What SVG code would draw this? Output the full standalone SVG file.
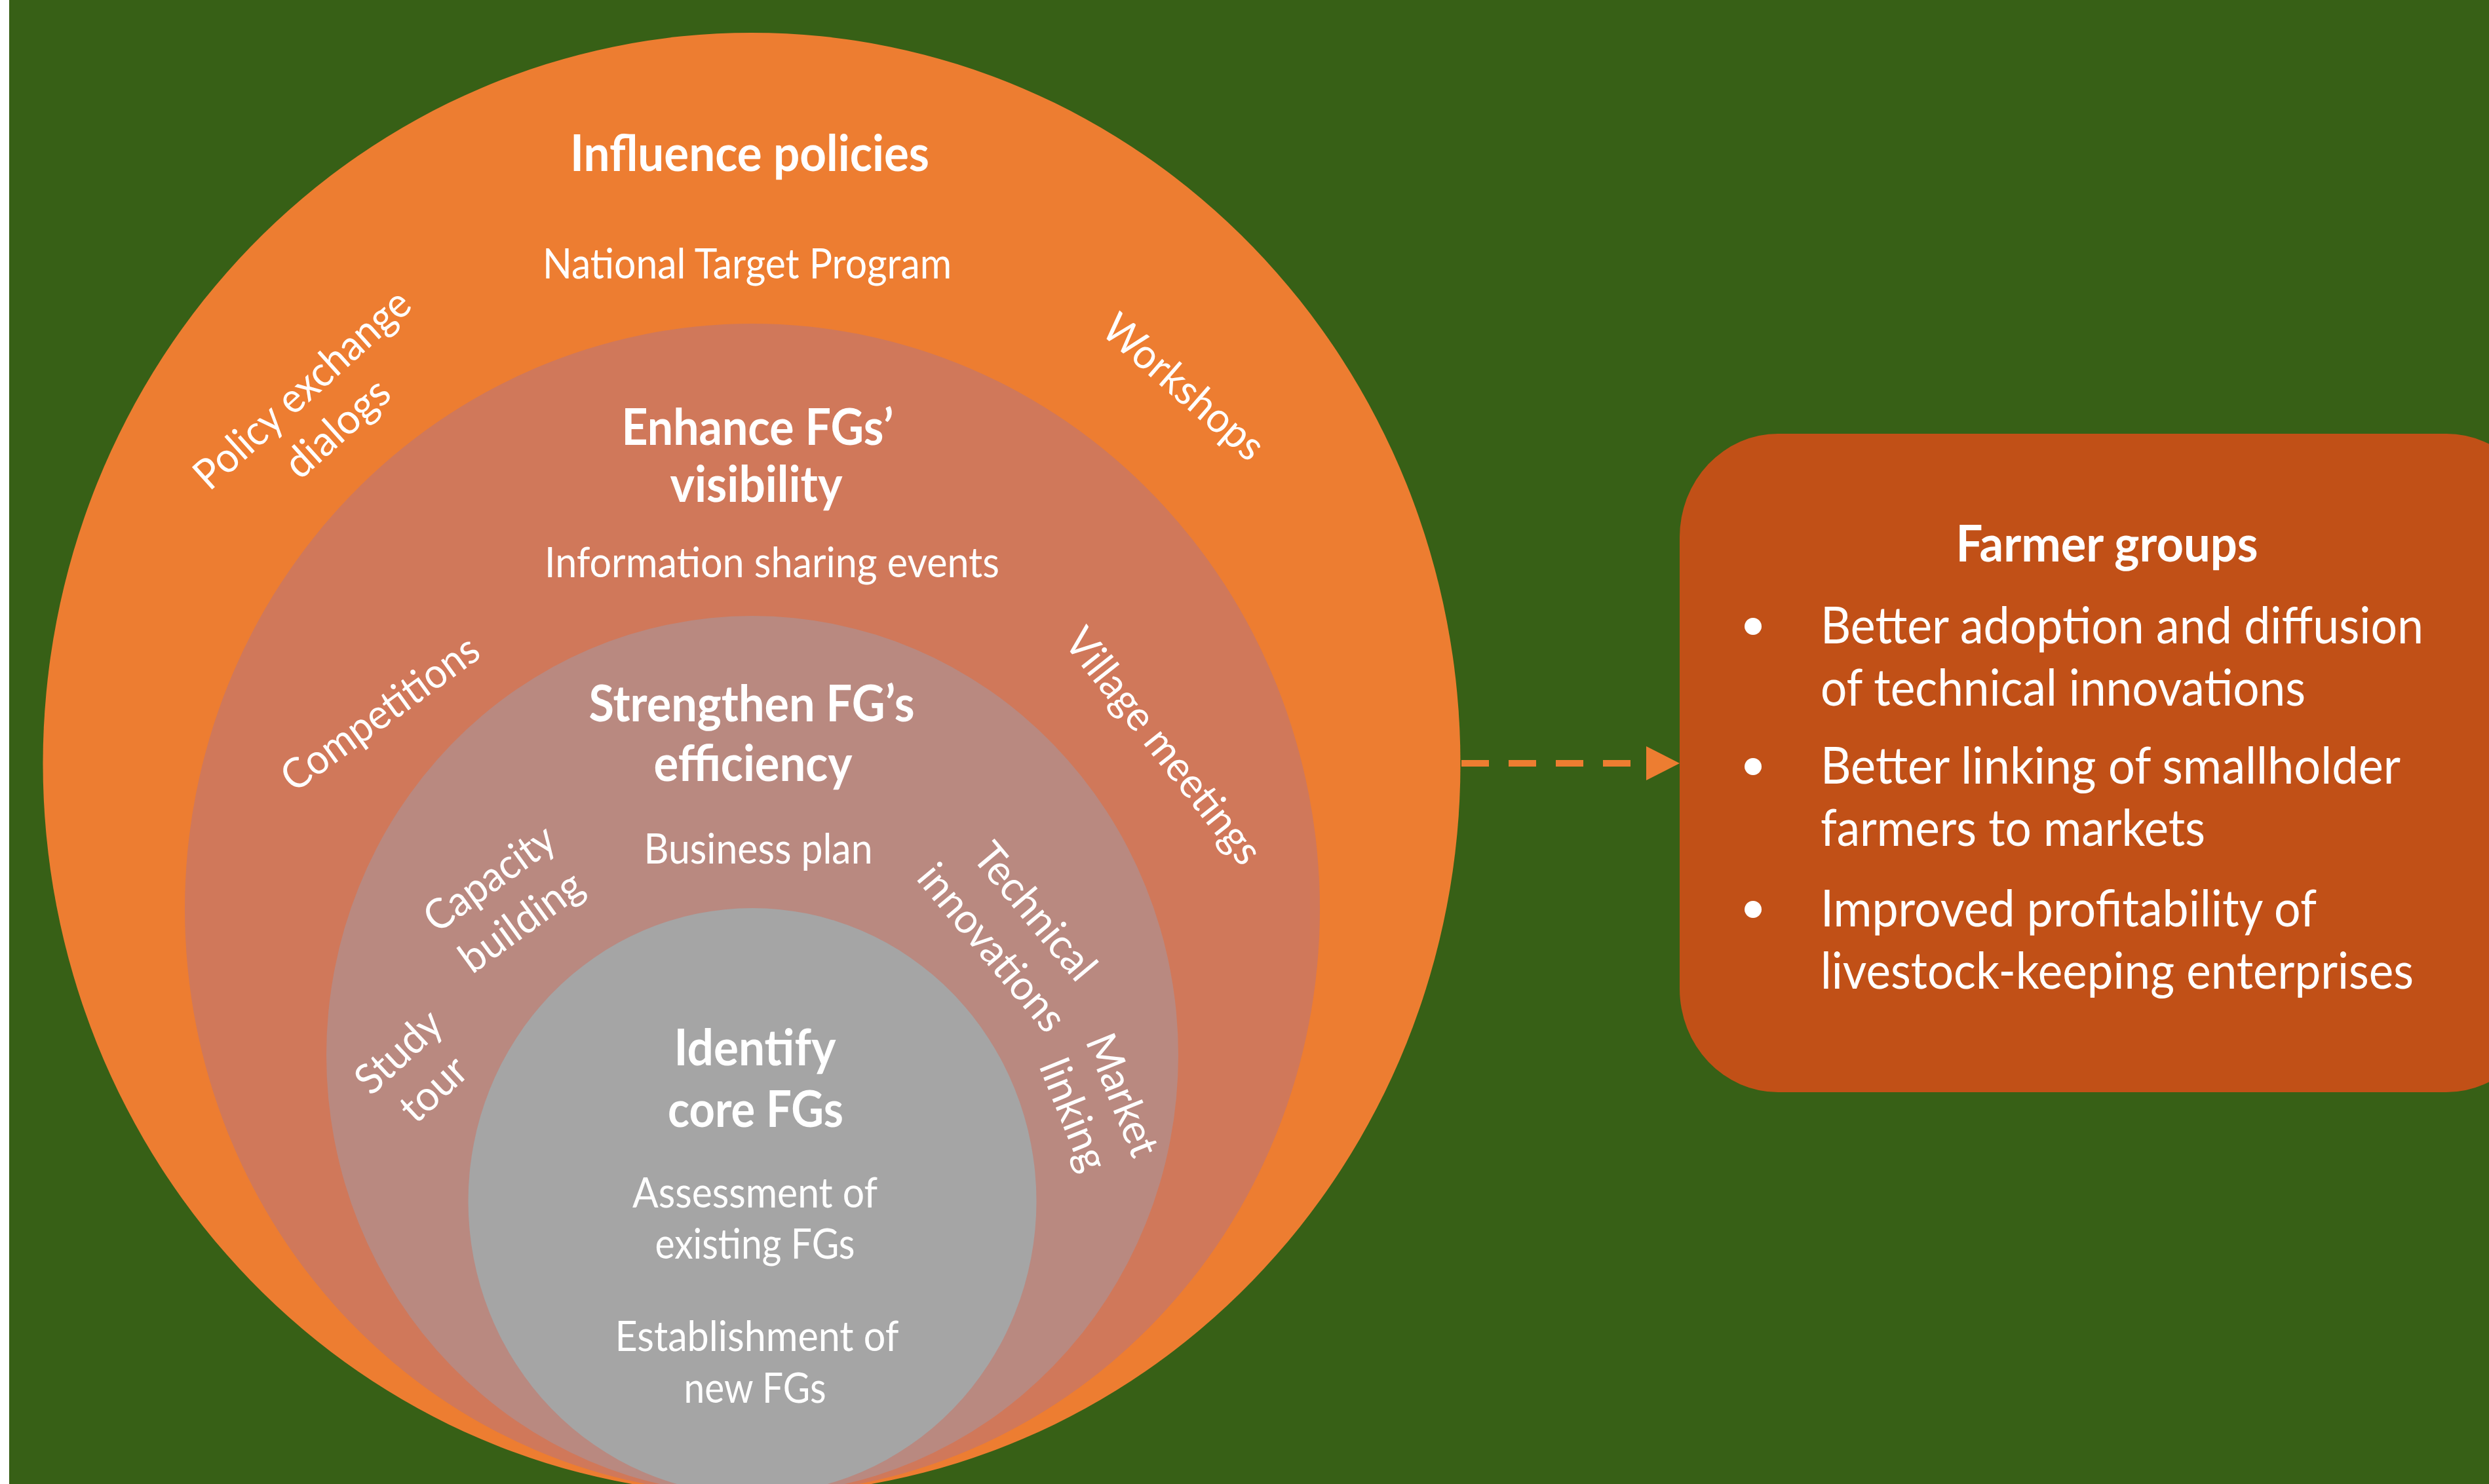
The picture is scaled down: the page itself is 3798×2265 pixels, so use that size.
<svg xmlns="http://www.w3.org/2000/svg" width="3798" height="2265" viewBox="0 0 3798 2265">
<defs>
<style>
.t{font-family:Lato,"Open Sans","Liberation Sans",sans-serif;fill:#ffffff}
.h{font-size:76px;font-weight:700;text-anchor:middle}
.m{font-size:64px;text-anchor:middle}
.b{font-size:77px}
.dot{font-size:70px;text-anchor:middle}
.conn{stroke:#ED7D31;stroke-width:10;stroke-dasharray:42 30;fill:none}
</style>
<marker id="arr" markerUnits="userSpaceOnUse" markerWidth="52" markerHeight="54" refX="0" refY="26" orient="auto" viewBox="0 0 52 54">
<path d="M0,0 L51,26 L0,52 Z" fill="#ED7D31"/>
</marker>
</defs>
<rect x="0" y="0" width="3798" height="2265" fill="#ffffff"/>
<rect x="14" y="0" width="3784" height="2265" fill="#376016"/>

<g id="ring-influence">
<ellipse cx="1147" cy="1165.5" rx="1081.5" ry="1115.5" fill="#ED7D31"/>
<text class="t h" x="1144" y="261" textLength="548" lengthAdjust="spacingAndGlyphs">Influence policies</text>
<text class="t m" x="1140" y="425" textLength="624" lengthAdjust="spacingAndGlyphs">National Target Program</text>
<g transform="translate(489,625) rotate(-42)">
<text class="t m" x="0" y="-20" textLength="420" lengthAdjust="spacingAndGlyphs">Policy exchange</text>
<text class="t m" x="0" y="60" textLength="192" lengthAdjust="spacingAndGlyphs">dialogs</text>
</g>
<text class="t m" transform="translate(1805,592) rotate(41)" x="0" y="20" textLength="303" lengthAdjust="spacingAndGlyphs">Workshops</text>
</g>

<g id="ring-visibility">
<ellipse cx="1148" cy="1387.5" rx="866" ry="893.5" fill="#D0785A"/>
<text class="t h" x="1156" y="679" textLength="415" lengthAdjust="spacingAndGlyphs">Enhance FGs’</text>
<text class="t h" x="1154" y="766" textLength="263" lengthAdjust="spacingAndGlyphs">visibility</text>
<text class="t m" x="1178" y="881" textLength="694" lengthAdjust="spacingAndGlyphs">Information sharing events</text>
<text class="t m" transform="translate(581,1090) rotate(-36)" x="0" y="20" textLength="356" lengthAdjust="spacingAndGlyphs">Competitions</text>
<text class="t m" transform="translate(1774,1140) rotate(51.5)" x="0" y="20" textLength="440" lengthAdjust="spacingAndGlyphs">Village meetings</text>
</g>

<g id="ring-efficiency">
<ellipse cx="1148" cy="1610.5" rx="650" ry="670.5" fill="#B98980"/>
<text class="t h" x="1147" y="1101" textLength="497" lengthAdjust="spacingAndGlyphs">Strengthen FG’s</text>
<text class="t h" x="1149" y="1192" textLength="303" lengthAdjust="spacingAndGlyphs">efficiency</text>
<text class="t m" x="1157" y="1318" textLength="349" lengthAdjust="spacingAndGlyphs">Business plan</text>
<g transform="translate(772,1375) rotate(-36)">
<text class="t m" x="0" y="-21" textLength="230" lengthAdjust="spacingAndGlyphs">Capacity</text>
<text class="t m" x="0" y="61" textLength="216" lengthAdjust="spacingAndGlyphs">building</text>
</g>
<g transform="translate(636,1635) rotate(-43)">
<text class="t m" x="0" y="-19" textLength="155" lengthAdjust="spacingAndGlyphs">Study</text>
<text class="t m" x="0" y="59" textLength="115" lengthAdjust="spacingAndGlyphs">tour</text>
</g>
<g transform="translate(1545,1420) rotate(50)">
<text class="t m" x="0" y="-23" textLength="252" lengthAdjust="spacingAndGlyphs">Technical</text>
<text class="t m" x="0" y="63" textLength="312" lengthAdjust="spacingAndGlyphs">innovations</text>
</g>
<g transform="translate(1674,1687) rotate(68)">
<text class="t m" x="0" y="-20" textLength="196" lengthAdjust="spacingAndGlyphs">Market</text>
<text class="t m" x="0" y="60" textLength="178" lengthAdjust="spacingAndGlyphs">linking</text>
</g>
</g>

<g id="core-fgs">
<ellipse cx="1148" cy="1833.5" rx="433.5" ry="447.5" fill="#A5A5A5"/>
<text class="t h" x="1152" y="1626" textLength="247" lengthAdjust="spacingAndGlyphs">Identify</text>
<text class="t h" x="1153" y="1720" textLength="268" lengthAdjust="spacingAndGlyphs">core FGs</text>
<text class="t m" x="1152" y="1843" textLength="374" lengthAdjust="spacingAndGlyphs">Assessment of</text>
<text class="t m" x="1152" y="1921" textLength="305" lengthAdjust="spacingAndGlyphs">existing FGs</text>
<text class="t m" x="1155" y="2062" textLength="433" lengthAdjust="spacingAndGlyphs">Establishment of</text>
<text class="t m" x="1152" y="2141" textLength="217" lengthAdjust="spacingAndGlyphs">new FGs</text>
</g>

<g id="connectors">
<line class="conn" x1="2230" y1="1165" x2="2512" y2="1165" marker-end="url(#arr)"/>
</g>

<g id="farmer-groups">
<rect x="2563" y="662" width="1320" height="1005" rx="150" ry="158" fill="#C15017"/>
<text class="t h" x="3215" y="857" textLength="461" lengthAdjust="spacingAndGlyphs">Farmer groups</text>
<text class="t dot" x="2675" y="977">•</text>
<text class="t b" x="2778" y="982" textLength="920" lengthAdjust="spacingAndGlyphs">Better adoption and diffusion</text>
<text class="t b" x="2778" y="1077" textLength="740" lengthAdjust="spacingAndGlyphs">of technical innovations</text>
<text class="t dot" x="2675" y="1191">•</text>
<text class="t b" x="2778" y="1196" textLength="885" lengthAdjust="spacingAndGlyphs">Better linking of smallholder</text>
<text class="t b" x="2778" y="1291" textLength="587" lengthAdjust="spacingAndGlyphs">farmers to markets</text>
<text class="t dot" x="2675" y="1409">•</text>
<text class="t b" x="2778" y="1414" textLength="757" lengthAdjust="spacingAndGlyphs">Improved profitability of</text>
<text class="t b" x="2778" y="1509" textLength="905" lengthAdjust="spacingAndGlyphs">livestock-keeping enterprises</text>
</g>
</svg>
